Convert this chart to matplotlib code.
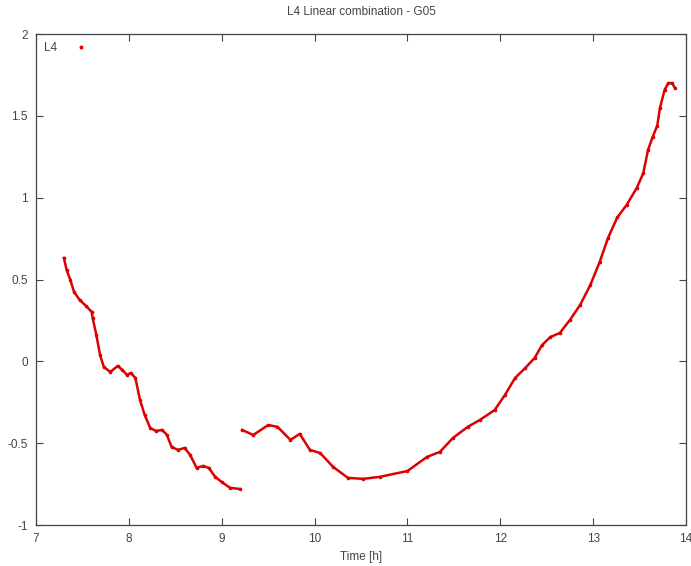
import matplotlib
matplotlib.use("Agg")
import matplotlib.pyplot as plt
import numpy as np

# first arc (before the gap)
t1 = [7.30, 7.33, 7.37, 7.41, 7.47, 7.54, 7.60, 7.61, 7.65, 7.69, 7.73, 7.80,
      7.88, 7.93, 7.98, 8.02, 8.07, 8.12, 8.17, 8.23, 8.29, 8.36, 8.41, 8.46,
      8.53, 8.60, 8.66, 8.73, 8.80, 8.86, 8.93, 9.00, 9.09, 9.20]
l4_1 = [0.632, 0.558, 0.497, 0.424, 0.375, 0.338, 0.302, 0.265, 0.161, 0.039,
        -0.034, -0.065, -0.028, -0.052, -0.083, -0.071, -0.101, -0.236, -0.327,
        -0.407, -0.425, -0.419, -0.45, -0.523, -0.541, -0.529, -0.572, -0.651,
        -0.639, -0.651, -0.706, -0.737, -0.773, -0.78]

# second arc
t2 = [9.22, 9.34, 9.50, 9.60, 9.74, 9.84, 9.95, 10.06, 10.20, 10.36, 10.52,
      10.70, 11.00, 11.21, 11.35, 11.49, 11.65, 11.78, 11.94, 12.05, 12.16,
      12.27, 12.37, 12.45, 12.54, 12.64, 12.75, 12.86, 12.97, 13.07, 13.16,
      13.26, 13.36, 13.47, 13.54, 13.59, 13.64, 13.69, 13.72, 13.77, 13.81,
      13.85, 13.88]
l4_2 = [-0.419, -0.45, -0.389, -0.40, -0.48, -0.443, -0.541, -0.56, -0.645,
        -0.712, -0.718, -0.706, -0.67, -0.584, -0.553, -0.468, -0.40, -0.358,
        -0.297, -0.205, -0.101, -0.040, 0.021, 0.10, 0.149, 0.173, 0.253, 0.345,
        0.467, 0.607, 0.754, 0.88, 0.955, 1.06, 1.15, 1.29, 1.37, 1.44, 1.55,
        1.66, 1.70, 1.70, 1.67]

red = "#dd0000"
grey = "#444444"

plt.rcParams["font.family"] = ["Liberation Sans", "DejaVu Sans"]

fig = plt.figure(figsize=(6.91, 5.66), dpi=100)
ax = fig.add_axes([0.0521, 0.0724, 0.9407, 0.8675])

ax.plot(t1, l4_1, color=red, lw=1.8, marker="o", ms=1.6, label="L4")
ax.plot(t2, l4_2, color=red, lw=1.8, marker="o", ms=1.6)

ax.set_xlim(7, 14)
ax.set_ylim(-1, 2)
ax.set_xticks(np.arange(7, 15, 1))
ax.set_yticks([-1, -0.5, 0, 0.5, 1, 1.5, 2])
ax.set_yticklabels(["-1", "-0.5", "0", "0.5", "1", "1.5", "2"])

ax.tick_params(direction="in", top=True, right=True, length=5, width=0.8,
               colors=grey, labelsize=8.5, labelcolor=grey, pad=6)
for s in ax.spines.values():
    s.set_color(grey)
    s.set_linewidth(0.9)

ax.set_xlabel("Time [h]", fontsize=8.5, color=grey, labelpad=4)
ax.set_title("L4 Linear combination - G05", fontsize=8.5, color=grey, pad=14)

leg = ax.legend(loc="upper left", frameon=False, markerfirst=False,
                handlelength=0.6, handletextpad=1.7, fontsize=8.5,
                borderaxespad=0.3)
for h in leg.legend_handles:
    h.set_linestyle("none")
    h.set_markersize(1.8)
for txt in leg.get_texts():
    txt.set_color(grey)

fig.savefig("out.png", dpi=100)
